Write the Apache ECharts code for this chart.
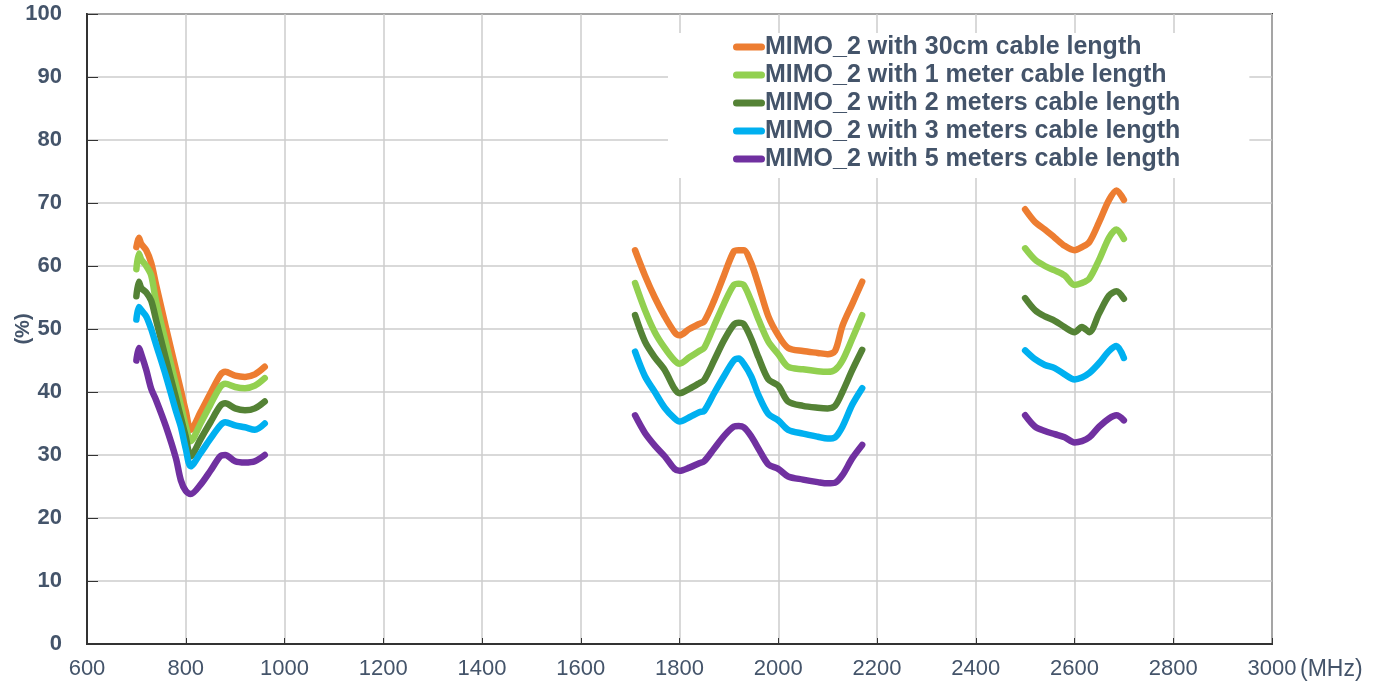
<!DOCTYPE html>
<html>
<head>
<meta charset="utf-8">
<script src="https://cdn.jsdelivr.net/npm/echarts@6/dist/echarts.min.js"></script>
<style>html,body{margin:0;padding:0;background:#fff}#c{width:1381px;height:687px}</style>
</head>
<body>
<div id="c"></div>
<script>
// Frequencies (MHz) for the three bands
const band1Freq = [700,705,710,720,730,740,760,780,790,800,810,830,850,870,880,900,920,940,960];
const band2Freq = [1710,1730,1750,1770,1790,1800,1820,1840,1850,1870,1890,1910,1920,1930,1945,1960,1980,2000,2020,2050,2080,2100,2115,2130,2150,2170];
const band3Freq = [2500,2520,2540,2560,2580,2600,2615,2630,2650,2670,2685,2700];

// Efficiency (%) values
const cable30cm_b1 = [63,64.5,63.5,62.5,60.5,57,50.2,43.6,40.3,37,34,36.8,39.8,42.7,43.2,42.6,42.4,42.8,44];
const cable30cm_b2 = [62.5,58.5,55,52,49.5,49,50,50.8,51.2,54.5,58.5,62.3,62.5,62.5,60.5,57,52,49,47,46.5,46.2,46,46.5,50.5,54,57.5];
const cable30cm_b3 = [69,67,65.8,64.5,63.2,62.5,63,63.8,67,70.5,72,70.5];

const cable1m_b1 = [59.5,62,61,60,58.5,54.3,47.7,41.2,37.9,34.6,32.2,35,38,40.8,41.3,40.8,40.6,41,42.2];
const cable1m_b2 = [57.3,53,49.5,47,45,44.5,45.5,46.5,47,50.5,54,57,57.2,57,54.5,51.5,48,46,44,43.6,43.3,43.2,43.5,45,48.5,52.2];
const cable1m_b3 = [62.8,61,60,59.3,58.5,57,57.3,58,61,64.5,65.8,64.3];

const cable2m_b1 = [55.2,57.5,56.5,55.8,54.5,51.4,45.2,39.1,36,32.9,29.8,32.5,35.2,37.8,38.2,37.4,37.1,37.4,38.5];
const cable2m_b2 = [52.2,48,45.5,43.5,40.5,39.8,40.5,41.4,41.9,45,48.2,50.7,51,50.8,48.5,45.5,42,41,38.5,37.8,37.5,37.4,37.8,40,43.5,46.7];
const cable2m_b3 = [54.9,53,52,51.3,50.3,49.5,50.3,49.5,52.5,55.3,56,54.8];

const cable3m_b1 = [51.5,53.5,53,52,50,47.5,42.5,37,34.5,31,28.2,30.3,32.6,34.7,35.2,34.7,34.4,34,35];
const cable3m_b2 = [46.4,42.5,40,37.5,35.8,35.3,36,36.8,37,39.8,42.5,45,45.3,44.5,42.5,39.5,36.5,35.5,34,33.4,32.9,32.6,32.8,34.5,38,40.6];
const cable3m_b3 = [46.6,45.2,44.3,43.8,42.8,42,42.3,43,44.6,46.5,47.3,45.4];

const cable5m_b1 = [45,47,46,43.5,40.5,38.7,34.5,29.5,26,24.3,23.8,25.3,27.5,29.8,30,29,28.8,29,30];
const cable5m_b2 = [36.3,33.5,31.5,29.8,27.8,27.5,28,28.7,29,31,33,34.5,34.6,34.4,33,31,28.5,27.8,26.6,26.1,25.7,25.5,25.6,26.8,29.5,31.6];
const cable5m_b3 = [36.3,34.5,33.8,33.3,32.8,32,32.2,32.8,34.5,35.8,36.3,35.5];

const seriesNames = [
  'MIMO_2 with 30cm cable length',
  'MIMO_2 with 1 meter cable length',
  'MIMO_2 with 2 meters cable length',
  'MIMO_2 with 3 meters cable length',
  'MIMO_2 with 5 meters cable length'
];
const seriesColors = ['#ED7D31','#92D050','#548235','#00B0F0','#7030A0'];
const seriesBands = [
  [cable30cm_b1, cable30cm_b2, cable30cm_b3],
  [cable1m_b1, cable1m_b2, cable1m_b3],
  [cable2m_b1, cable2m_b2, cable2m_b3],
  [cable3m_b1, cable3m_b2, cable3m_b3],
  [cable5m_b1, cable5m_b2, cable5m_b3]
];
const bandFreqs = [band1Freq, band2Freq, band3Freq];

function buildData(bands) {
  const out = [];
  bands.forEach((vals, bi) => {
    if (bi > 0) out.push(['-', '-']);
    vals.forEach((v, i) => out.push([bandFreqs[bi][i], v]));
  });
  return out;
}

const textColor = '#44546A';
const chart = echarts.init(document.getElementById('c'));
chart.setOption({
  animation: false,
  backgroundColor: '#fff',
  grid: {left: 87, right: 109, top: 14, bottom: 43, show: true, borderColor: '#333', borderWidth: 2, containLabel: false, outerBoundsMode: 'none'},
  legend: {
    orient: 'vertical',
    left: 668, top: 33,
    padding: [0, 69, 5, 65],
    backgroundColor: '#fff',
    itemGap: 0,
    itemWidth: 32, itemHeight: 7,
    icon: 'path://M3.5,0 L28.5,0 A3.5,3.5 0 0 1 28.5,7 L3.5,7 A3.5,3.5 0 0 1 3.5,0 Z',
    textStyle: {fontFamily: 'Liberation Sans', fontWeight: 'bold', fontSize: 25, color: textColor, lineHeight: 28, padding: [0,0,0,-5]},
    data: seriesNames,
    z: 10
  },
  xAxis: {
    type: 'value', min: 600, max: 3000, interval: 200,
    name: '(MHz)', nameLocation: 'end', nameGap: 28, nameMoveOverlap: false,
    nameTextStyle: {fontFamily: 'Liberation Sans', fontSize: 23, color: textColor, verticalAlign: 'top', padding: [14, 0, 0, 0]},
    axisLine: {show: true, lineStyle: {color: '#333', width: 2}},
    axisTick: {show: true, inside: true, length: 6, lineStyle: {color: '#333'}},
    axisLabel: {fontFamily: 'Liberation Sans', fontSize: 22, color: textColor, margin: 14, formatter: v => String(v)},
    splitLine: {show: true, lineStyle: {color: '#cccccc', width: 1.5}}
  },
  yAxis: {
    type: 'value', min: 0, max: 100, interval: 10,
    name: '(%)', nameLocation: 'middle', nameGap: 54, nameRotate: 90, nameMoveOverlap: false,
    nameTextStyle: {fontFamily: 'Liberation Sans', fontSize: 20, fontWeight: 'bold', color: textColor},
    axisLine: {show: true, lineStyle: {color: '#333', width: 2}},
    axisTick: {show: true, inside: true, length: 11, lineStyle: {color: '#333'}},
    axisLabel: {fontFamily: 'Liberation Sans', fontSize: 22, fontWeight: 'bold', color: textColor, margin: 25, formatter: v => String(v)},
    splitLine: {show: true, lineStyle: {color: '#cccccc', width: 1.5}}
  },
  series: seriesNames.map((name, i) => ({
    name: name,
    type: 'line',
    data: buildData(seriesBands[i]),
    showSymbol: false,
    symbol: 'none',
    smooth: 0.3,
    connectNulls: false,
    color: seriesColors[i],
    lineStyle: {width: 6.5, color: seriesColors[i], cap: 'round', join: 'round'}
  }))
});
</script>
</body>
</html>
